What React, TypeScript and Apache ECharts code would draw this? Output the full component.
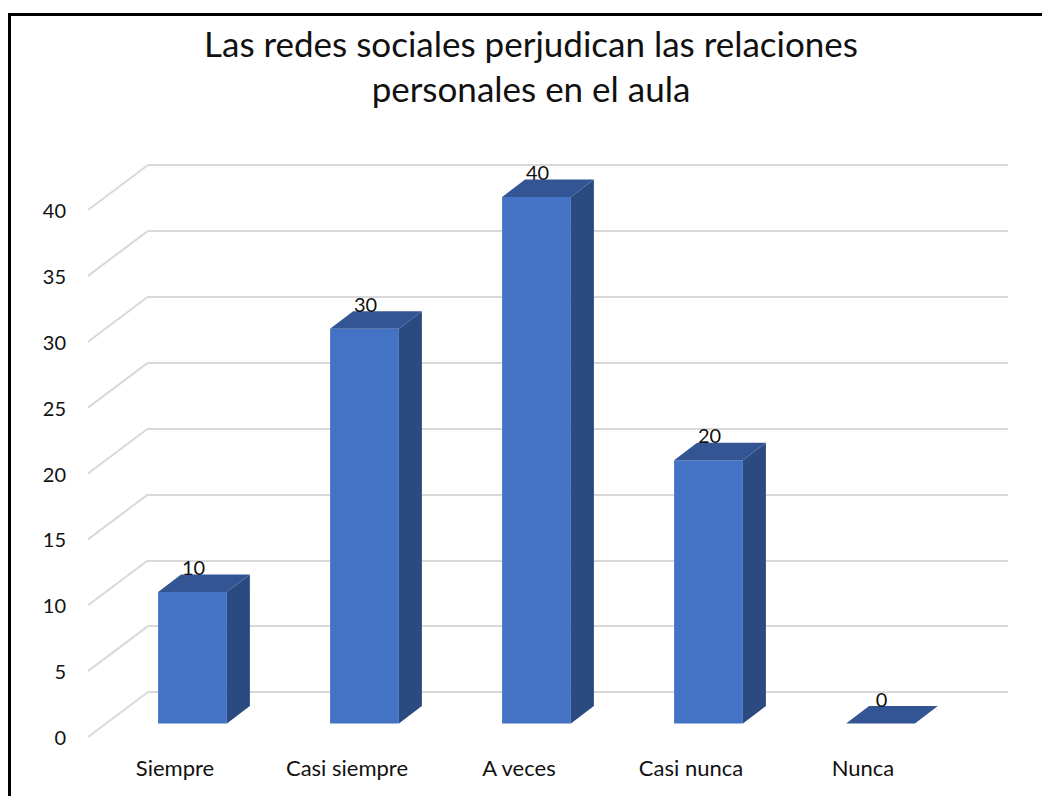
import React, { useEffect, useRef } from "react";
import * as echarts from "echarts";

const titleLines = ["Las redes sociales perjudican las relaciones", "personales en el aula"];
const categories = ["Siempre", "Casi siempre", "A veces", "Casi nunca", "Nunca"];
const values = [10, 30, 40, 20, 0];
const ticks = [0, 5, 10, 15, 20, 25, 30, 35, 40];

const FONT = "Lato, 'Open Sans', sans-serif";
const DEPTH_X = 23;
const DEPTH_Y = -17.5;

export default function App() {
  const ref = useRef<HTMLDivElement>(null);
  useEffect(() => {
    document.body.style.margin = "0";
    const chart = echarts.init(ref.current!, null, { renderer: "svg" });
    const yAxisBase = { type: "value", min: 0, max: 40, interval: 5, axisLine: { show: false }, axisTick: { show: false } };
    const xAxisBase = { type: "category", data: categories, axisLine: { show: false }, axisTick: { show: false } };
    chart.setOption({
      animation: false,
      backgroundColor: "#ffffff",
      title: {
        text: titleLines.join("\n"),
        left: 526,
        top: 15,
        textAlign: "center",
        textStyle: { fontFamily: FONT, fontSize: 35, fontWeight: "normal", color: "#111111", lineHeight: 45 },
      },
      graphic: [
        { type: "rect", silent: true, shape: { x: 9.5, y: 14.5, width: 1100, height: 900 }, style: { fill: "none", stroke: "#000000", lineWidth: 3 } },
      ],
      grid: [
        { left: 148, width: 860, top: 165, height: 527 }, // back wall
        { left: 89, width: 860, top: 210, height: 527 }, // tick labels
        { left: 106.5, width: 860, top: 197, height: 526.5 }, // bars' front plane
      ],
      xAxis: [
        { ...xAxisBase, gridIndex: 0, axisLabel: { show: false } },
        {
          ...xAxisBase,
          gridIndex: 1,
          axisLabel: { show: true, interval: 0, margin: 19, fontFamily: FONT, fontSize: 22, color: "#111111" },
        },
        { ...xAxisBase, gridIndex: 2, axisLabel: { show: false } },
      ],
      yAxis: [
        { ...yAxisBase, gridIndex: 0, axisLabel: { show: false }, splitLine: { show: true, lineStyle: { color: "#d9d9d9", width: 2 } } },
        { ...yAxisBase, gridIndex: 1, axisLabel: { show: true, margin: 23, fontFamily: FONT, fontSize: 20, color: "#111111" }, splitLine: { show: false } },
        { ...yAxisBase, gridIndex: 2, axisLabel: { show: false }, splitLine: { show: false } },
      ],
      series: [
        {
          type: "custom",
          xAxisIndex: 1,
          yAxisIndex: 1,
          silent: true,
          clip: false,
          data: ticks.map((t) => [0, t]),
          renderItem: (_p: any, api: any) => {
            const y = api.coord([0, api.value(1)])[1];
            return {
              type: "line",
              shape: { x1: 88, y1: y, x2: 148, y2: y - 45 },
              style: { stroke: "#d9d9d9", lineWidth: 2, fill: "none" },
            };
          },
        },
        {
          type: "custom",
          xAxisIndex: 2,
          yAxisIndex: 2,
          silent: true,
          clip: false,
          data: values.map((v, i) => [i, v]),
          renderItem: (_p: any, api: any) => {
            const [cx, top] = api.coord([api.value(0), api.value(1)]);
            const [, bottom] = api.coord([api.value(0), 0]);
            const w = api.size([1, 0])[0] * 0.4;
            const l = cx - w / 2;
            const r = cx + w / 2;
            const children: any[] = [];
            if (bottom - top > 0) {
              children.push({
                type: "polygon",
                shape: { points: [[r, top], [r + DEPTH_X, top + DEPTH_Y], [r + DEPTH_X, bottom + DEPTH_Y], [r, bottom]] },
                style: { fill: "#2b4a80" },
              });
              children.push({ type: "rect", shape: { x: l, y: top, width: w, height: bottom - top }, style: { fill: "#4472c4" } });
            }
            children.push({
              type: "polygon",
              shape: { points: [[l, top], [l + DEPTH_X, top + DEPTH_Y], [r + DEPTH_X, top + DEPTH_Y], [r, top]] },
              style: { fill: "#335593" },
            });
            children.push({
              type: "text",
              style: {
                text: String(api.value(1)),
                x: cx + 1,
                y: top - 25,
                align: "center",
                verticalAlign: "middle",
                fontFamily: FONT,
                fontSize: 20,
                fill: "#111111",
              },
            });
            return { type: "group", children };
          },
        },
      ],
    });
    return () => chart.dispose();
  }, []);
  return <div ref={ref} style={{ width: 1042, height: 796 }} />;
}
